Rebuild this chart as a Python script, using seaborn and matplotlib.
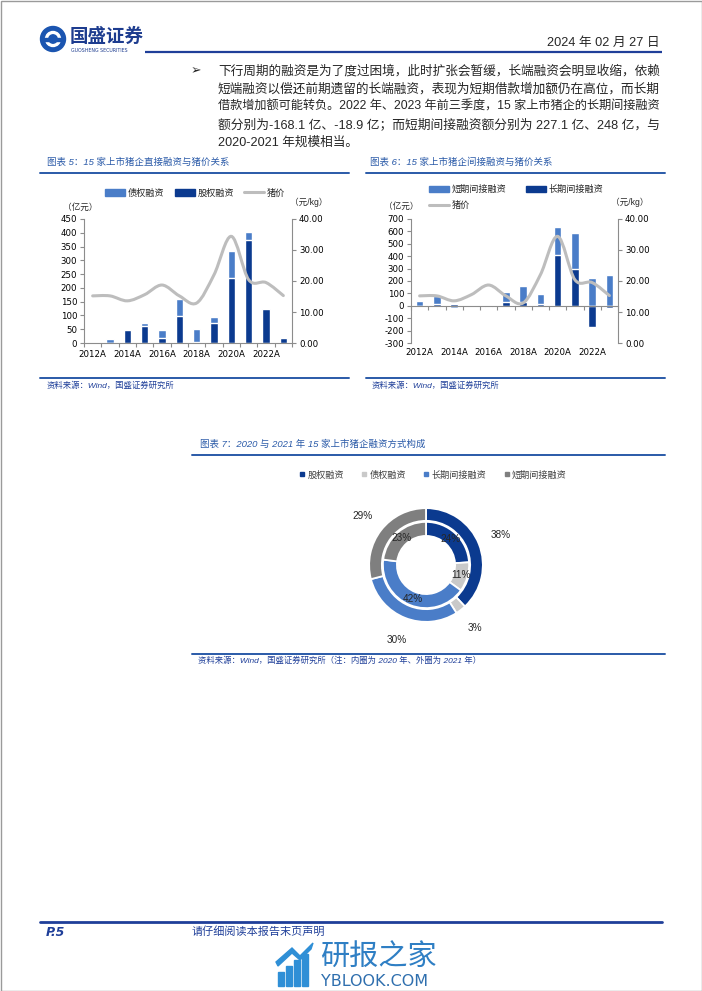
import numpy as np
import pandas as pd
import matplotlib
matplotlib.use("Agg")
import matplotlib.pyplot as plt
import seaborn as sns
from matplotlib.path import Path
from matplotlib.patches import PathPatch, Patch, Rectangle, Circle, Polygon
from matplotlib.lines import Line2D

# ---------------- data ----------------
years = ["2012A", "2013A", "2014A", "2015A", "2016A", "2017A",
         "2018A", "2019A", "2020A", "2021A", "2022A", "2023Q3"]
equity_fin = [0, 0, 48, 62, 18, 97, 5, 72, 235, 372, 122, 18]          # 股权融资
debt_fin = [0, 15, 0, 11, 30, 61, 47, 22, 100, 30, 0, 0]               # 债权融资
pig_price = [15.2, 15.2, 13.6, 15.6, 18.7, 15.2, 12.9, 22.0, 34.4, 20.4, 19.5, 15.3]  # 猪价
short_indirect = [35, 67, -20, 0, -10, 88, 128, 80, 226, 290, 227.1, 248]   # 短期间接融资
long_indirect = [0, 13, 15, 0, -8, 27, 29, 13, 412, 295, -168.1, -18.9]      # 长期间接融资

donut_labels = ["股权融资", "债权融资", "长期间接融资", "短期间接融资"]
share_2020 = [24, 11, 42, 23]   # inner ring
share_2021 = [38, 3, 30, 29]    # outer ring

# ---------------- style ----------------
sns.set_theme(style="white")
plt.rcParams["font.family"] = ["DejaVu Sans", "Noto Sans CJK SC"]
plt.rcParams["axes.unicode_minus"] = False

W, H = 702, 991
DARK = "#0b3a8f"
LIGHT = "#4a7dc8"
LINEGRAY = "#bdbdbd"
AXGRAY = "#8c8c8c"
TITLEBLUE = "#2a5aa8"
NAVY = "#1f3f99"
TXT = "#262626"
CJK = ["Liberation Sans", "Noto Sans CJK SC", "DejaVu Sans"]
TICK = 6.2

fig = plt.figure(figsize=(W / 100, H / 100), dpi=100)


def rect(x0, y0, x1, y1):
    return [x0 / W, 1 - y1 / H, (x1 - x0) / W, (y1 - y0) / H]


# decoration layer in page pixel coords
deco = fig.add_axes([0, 0, 1, 1], zorder=5)
deco.set_xlim(0, W)
deco.set_ylim(H, 0)
deco.axis("off")


def smooth_path(xs, ys):
    """Excel-like smoothed line as cubic Bezier segments through the data points."""
    pts = np.column_stack([np.asarray(xs, float), np.asarray(ys, float)])
    n = len(pts)
    verts = [pts[0]]
    codes = [Path.MOVETO]
    for i in range(n - 1):
        p0 = pts[i - 1] if i > 0 else pts[i]
        p1 = pts[i]
        p2 = pts[i + 1]
        p3 = pts[i + 2] if i + 2 < n else pts[i + 1]
        verts += [p1 + (p2 - p0) / 6.0, p2 - (p3 - p1) / 6.0, p2]
        codes += [Path.CURVE4] * 3
    return Path(verts, codes)


def style_axes(ax, ax2):
    for s in ["top", "right"]:
        ax.spines[s].set_visible(False)
    for s in ["top", "left", "bottom"]:
        ax2.spines[s].set_visible(False)
    for s in ["left", "bottom"]:
        ax.spines[s].set_color(AXGRAY)
        ax.spines[s].set_linewidth(0.8)
    ax2.spines["right"].set_color(AXGRAY)
    ax2.spines["right"].set_linewidth(0.8)
    ax.tick_params(axis="y", which="major", left=True, length=3, width=0.8,
                   color=AXGRAY, labelsize=TICK, labelcolor="black", pad=2)
    ax2.tick_params(axis="y", which="major", right=True, length=3, width=0.8,
                    color=AXGRAY, labelsize=TICK, labelcolor="black", pad=2)
    ax.set_xlabel("")
    ax.set_ylabel("")
    ax.set_facecolor("none")
    ax2.set_facecolor("none")


def category_ticks(ax, pad):
    n = len(years)
    ax.set_xticks(list(range(0, n, 2)))
    ax.set_xticklabels([years[i] for i in range(0, n, 2)])
    ax.set_xticks(np.arange(-0.5, n, 1.0), minor=True)
    ax.tick_params(axis="x", which="major", length=0, labelsize=TICK,
                   labelcolor="black", pad=pad)
    ax.tick_params(axis="x", which="minor", bottom=True, length=3,
                   width=0.8, color=AXGRAY)
    ax.set_xlim(-0.5, n - 0.5)


LEGPROP = {"family": CJK, "size": 6.6}

# ---------------- chart 5 ----------------
df5 = pd.DataFrame({"year": years, "equity": equity_fin, "debt": debt_fin,
                    "price": pig_price})
df5["stack_top"] = df5["equity"] + df5["debt"]

ax5 = fig.add_axes(rect(84, 219, 292, 343))
sns.barplot(data=df5, x="year", y="stack_top", color=LIGHT, saturation=1,
            width=0.42, ax=ax5)
sns.barplot(data=df5, x="year", y="equity", color=DARK, saturation=1,
            width=0.42, ax=ax5)
ax5.set_ylim(0, 450)
ax5.set_yticks(range(0, 451, 50))
ax5b = ax5.twinx()
ax5b.set_ylim(0, 40)
ax5b.set_yticks([0, 10, 20, 30, 40])
ax5b.set_yticklabels([f"{v:.2f}" for v in [0, 10, 20, 30, 40]])
ax5b.add_patch(PathPatch(smooth_path(range(len(years)), df5["price"]),
                         fill=False, ec=LINEGRAY, lw=2.2, capstyle="round"))
style_axes(ax5, ax5b)
category_ticks(ax5, 5)

leg5 = [Patch(color=LIGHT), Patch(color=DARK), Line2D([], [], color=LINEGRAY, lw=2.2)]
fig.legend(leg5, ["债权融资", "股权融资", "猪价"], ncol=3, frameon=False,
           loc="center left", bbox_to_anchor=(105 / W, 1 - 193 / H),
           prop=LEGPROP, handlelength=2.2, handleheight=0.7,
           handletextpad=0.3, columnspacing=1.1, labelcolor=TXT,
           borderpad=0, borderaxespad=0)

# ---------------- chart 6 ----------------
df6 = pd.DataFrame({"year": years, "short": short_indirect, "long": long_indirect})
same_sign = np.sign(df6["short"]) == np.sign(df6["long"])
df6["short_extent"] = np.where(same_sign, df6["short"] + df6["long"], df6["short"])

ax6 = fig.add_axes(rect(411, 219, 618, 343))
sns.barplot(data=df6, x="year", y="short_extent", color=LIGHT, saturation=1,
            width=0.43, ax=ax6)
sns.barplot(data=df6, x="year", y="long", color=DARK, saturation=1,
            width=0.43, ax=ax6)
ax6.set_ylim(-300, 700)
ax6.set_yticks(range(-300, 701, 100))
ax6.spines["bottom"].set_position(("data", 0))
ax6b = ax6.twinx()
ax6b.set_ylim(0, 40)
ax6b.set_yticks([0, 10, 20, 30, 40])
ax6b.set_yticklabels([f"{v:.2f}" for v in [0, 10, 20, 30, 40]])
ax6b.add_patch(PathPatch(smooth_path(range(len(years)), pig_price),
                         fill=False, ec=LINEGRAY, lw=2.2, capstyle="round"))
style_axes(ax6, ax6b)
zero_drop_px = (0 - (-300)) / 1000 * 124
category_ticks(ax6, (zero_drop_px + 5) * 72 / 100)

leg6 = [Patch(color=LIGHT), Line2D([], [], color=LINEGRAY, lw=2.2), Patch(color=DARK)]
fig.legend(leg6, ["短期间接融资", "猪价", "长期间接融资"], ncol=2, frameon=False,
           loc="upper left", bbox_to_anchor=(429 / W, 1 - 185 / H),
           prop=LEGPROP, handlelength=2.2, handleheight=0.7,
           handletextpad=0.3, columnspacing=2.1, labelspacing=0.75,
           labelcolor=TXT, borderpad=0, borderaxespad=0)

# unit labels
for x, y, s in [(63, 207, "（亿元）"), (290, 202, "（元/kg）"),
                (384, 206, "（亿元）"), (611, 202, "（元/kg）")]:
    deco.text(x, y, s, fontsize=6.2, color=TXT, family=CJK, va="center", ha="left")

# ---------------- chart 7 (donut) ----------------
DCOL = [DARK, "#c9c9c9", LIGHT, "#7f7f7f"]
ax7 = fig.add_axes(rect(426 - 91, 565 - 91, 426 + 91, 565 + 91))
fmt = lambda p: f"{p:.0f}%"
ax7.pie(share_2021, radius=1.0, startangle=90, counterclock=False, colors=DCOL,
        wedgeprops=dict(width=0.224, edgecolor="white", linewidth=1.3),
        autopct=fmt, pctdistance=1.41,
        textprops=dict(fontsize=7.2, color=TXT, family=CJK))
ax7.pie(share_2020, radius=0.758, startangle=90, counterclock=False, colors=DCOL,
        wedgeprops=dict(width=0.247, edgecolor="white", linewidth=1.3),
        autopct=fmt, pctdistance=0.84,
        textprops=dict(fontsize=7.2, color=TXT, family=CJK))
ax7.set_xlim(-1.6, 1.6)
ax7.set_ylim(-1.6, 1.6)
ax7.set_aspect("equal")
ax7.axis("off")

leg7 = [Line2D([], [], marker="s", ls="", color=c, markersize=3.0) for c in DCOL]
fig.legend(leg7, donut_labels, ncol=4, frameon=False, loc="center left",
           bbox_to_anchor=(299 / W, 1 - 475 / H),
           prop=LEGPROP, handlelength=0.6, handletextpad=0.3,
           columnspacing=1.9, labelcolor="#404040", borderpad=0, borderaxespad=0)

# ---------------- page decoration ----------------
deco.add_patch(Rectangle((0.5, 0.5), W - 1, H - 1, fill=False, ec="#9a9a9a", lw=1))

# logo
deco.add_patch(Circle((53, 39), 12.5, color="#1b55b0"))
deco.add_patch(Circle((53, 39), 7.5, color="white"))
deco.add_patch(Circle((53, 39), 4.2, color="#1b55b0"))
deco.add_patch(Rectangle((43, 37.5), 20, 3, color="#1b55b0"))
deco.text(70, 37, "国盛证券", fontsize=13.3, fontweight="bold", color="#1d3c8f",
          family=CJK, va="center", ha="left")
deco.text(71, 50.5, "GUOSHENG SECURITIES", fontsize=3.4, color="#1d3c8f",
          va="center", ha="left")

deco.text(660, 43, "2024 年 02 月 27 日", fontsize=9.2, color=TXT, family=CJK,
          va="center", ha="right")
deco.plot([145, 662], [52, 52], color=NAVY, lw=1.6, solid_capstyle="butt")

body = [
    "下行周期的融资是为了度过困境，此时扩张会暂缓，长端融资会明显收缩，依赖",
    "短端融资以偿还前期遗留的长端融资，表现为短期借款增加额仍在高位，而长期",
    "借款增加额可能转负。2022 年、2023 年前三季度，15 家上市猪企的长期间接融资",
    "额分别为-168.1 亿、-18.9 亿；而短期间接融资额分别为 227.1 亿、248 亿，与",
    "2020-2021 年规模相当。",
]
deco.text(191, 71, "➢", fontsize=9, color=TXT, family=["DejaVu Sans"],
          va="center", ha="left")
body_texts = []
for i, line in enumerate(body):
    body_texts.append(deco.text(218, 71 + i * 18, line, fontsize=9.4, color=TXT,
                                family=CJK, va="center", ha="left"))

# chart titles, rules and sources
TIT = dict(fontsize=6.8, color=TITLEBLUE, family=CJK, style="italic",
           va="center", ha="left")
SRC = dict(fontsize=6.0, color=NAVY, family=CJK, style="italic",
           va="center", ha="left")
deco.text(47, 162, "图表 5：15 家上市猪企直接融资与猪价关系", **TIT)
deco.text(370, 162, "图表 6：15 家上市猪企间接融资与猪价关系", **TIT)
for x0, x1, y in [(40, 349, 173), (366, 665, 173), (40, 349, 378), (366, 665, 378),
                  (192, 665, 455), (192, 665, 654)]:
    deco.plot([x0, x1], [y, y], color=TITLEBLUE, lw=1.4)
deco.text(47, 386, "资料来源：Wind，国盛证券研究所", **SRC)
deco.text(372, 386, "资料来源：Wind，国盛证券研究所", **SRC)
deco.text(200, 444, "图表 7：2020 与 2021 年 15 家上市猪企融资方式构成", **TIT)
deco.text(198, 661, "资料来源：Wind，国盛证券研究所（注：内圈为 2020 年、外圈为 2021 年）", **SRC)

# footer
deco.plot([40, 662], [922, 922], color=NAVY, lw=2.0)
deco.text(46, 932, "P.5", fontsize=9, fontweight="bold", style="italic",
          color=NAVY, va="center", ha="left")
deco.text(192, 932, "请仔细阅读本报告末页声明", fontsize=8, style="italic",
          color=NAVY, family=CJK, va="center", ha="left")

# watermark
WM = "#2f8fd6"
for bx, bh in [(278, 14), (286, 20), (294, 26), (302, 32)]:
    deco.add_patch(Rectangle((bx, 986 - bh), 5.5, bh, color=WM))
deco.add_patch(Polygon([[276, 962], [292, 948], [300, 956], [313, 943],
                        [311, 949], [300, 960], [292, 953], [278, 966]], color=WM))
deco.text(320, 958, "研报之家", fontsize=21, color="#2f7fc4", family=CJK,
          va="center", ha="left")
deco.text(321, 982, "YBLOOK.COM", fontsize=11.5, color="#2f6fae",
          va="center", ha="left")

# fit the justified body lines to the text column width (218 -> 660 px)
fig.canvas.draw()
renderer = fig.canvas.get_renderer()
for t in body_texts[:4]:
    w = t.get_window_extent(renderer).width
    t.set_fontsize(t.get_fontsize() * 442.0 / w)
body_texts[4].set_fontsize(body_texts[1].get_fontsize())

fig.savefig("out.png", dpi=100)
